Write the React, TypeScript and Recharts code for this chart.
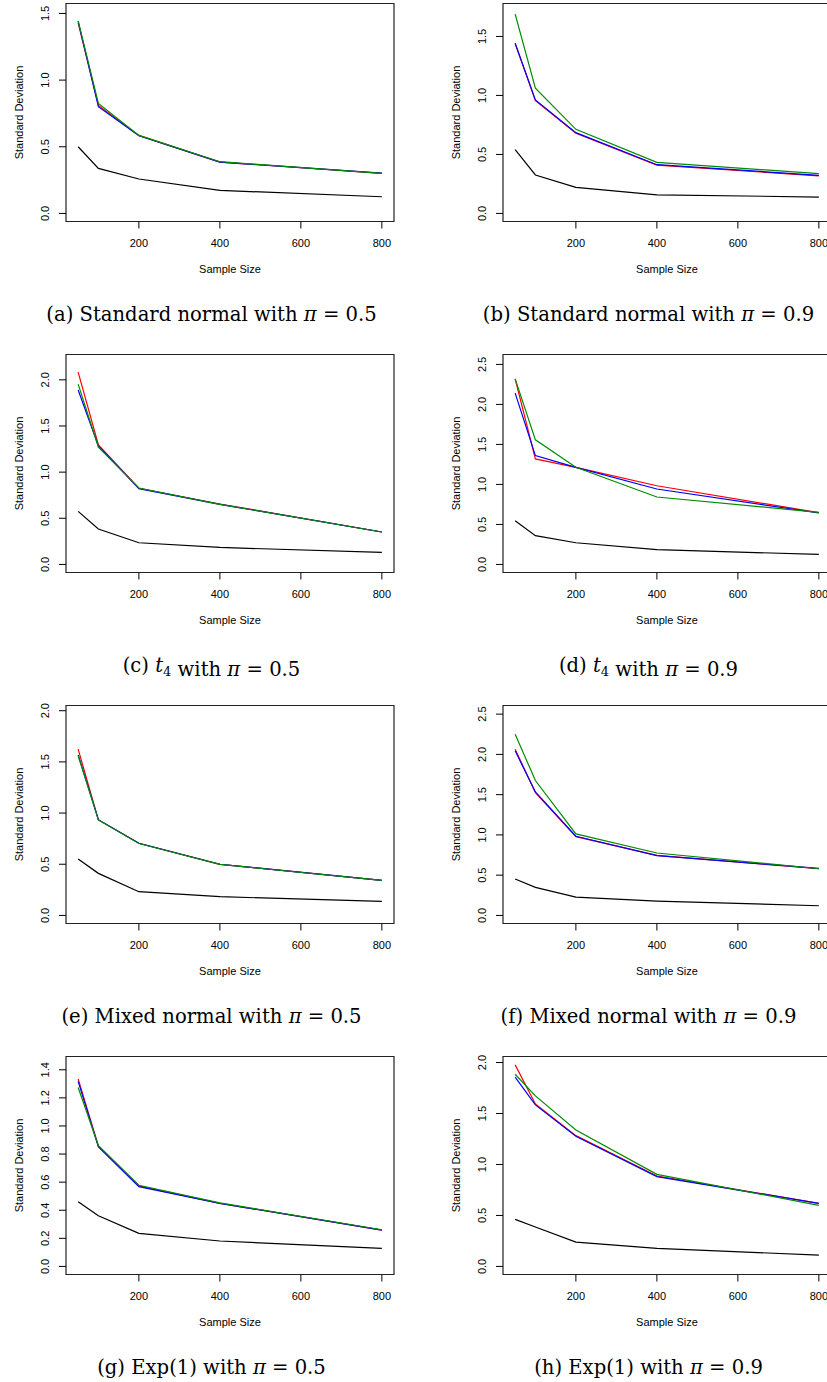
import React from 'react';
import { LineChart, Line, XAxis, YAxis, ReferenceArea } from 'recharts';

// sample sizes on the x axis
const sampleSizes = [50, 100, 200, 400, 800];
const xTicks = [200, 400, 600, 800];

// standard deviation of each estimator, one object per panel
const normal05 = {
  black: [0.5, 0.338, 0.258, 0.173, 0.125],
  red: [1.43, 0.81, 0.585, 0.385, 0.3],
  blue: [1.44, 0.8, 0.583, 0.385, 0.302],
  green: [1.445, 0.825, 0.585, 0.388, 0.3],
};
const normal09 = {
  black: [0.54, 0.326, 0.221, 0.158, 0.139],
  red: [1.44, 0.955, 0.68, 0.41, 0.318],
  blue: [1.443, 0.962, 0.685, 0.413, 0.323],
  green: [1.69, 1.061, 0.713, 0.433, 0.337],
};
const t4_05 = {
  black: [0.575, 0.383, 0.235, 0.184, 0.13],
  red: [2.083, 1.295, 0.825, 0.655, 0.351],
  blue: [1.89, 1.284, 0.821, 0.651, 0.351],
  green: [1.953, 1.27, 0.828, 0.651, 0.351],
};
const t4_09 = {
  black: [0.547, 0.359, 0.271, 0.184, 0.125],
  red: [2.32, 1.319, 1.214, 0.983, 0.647],
  blue: [2.141, 1.36, 1.214, 0.943, 0.643],
  green: [2.32, 1.557, 1.214, 0.843, 0.651],
};
const mixed05 = {
  black: [0.551, 0.411, 0.232, 0.183, 0.137],
  red: [1.625, 0.933, 0.705, 0.499, 0.343],
  blue: [1.569, 0.935, 0.705, 0.5, 0.343],
  green: [1.56, 0.933, 0.703, 0.499, 0.342],
};
const mixed09 = {
  black: [0.452, 0.348, 0.228, 0.178, 0.12],
  red: [2.065, 1.526, 0.978, 0.746, 0.58],
  blue: [2.044, 1.534, 0.983, 0.742, 0.585],
  green: [2.251, 1.675, 1.012, 0.775, 0.58],
};
const exp05 = {
  black: [0.461, 0.361, 0.235, 0.181, 0.128],
  red: [1.334, 0.858, 0.573, 0.449, 0.259],
  blue: [1.317, 0.851, 0.568, 0.449, 0.259],
  green: [1.274, 0.86, 0.578, 0.452, 0.261],
};
const exp09 = {
  black: [0.462, 0.387, 0.239, 0.177, 0.111],
  red: [1.977, 1.594, 1.283, 0.887, 0.619],
  blue: [1.856, 1.584, 1.277, 0.881, 0.619],
  green: [1.885, 1.673, 1.339, 0.903, 0.599],
};

const ticksHalf15 = [0, 0.5, 1, 1.5];
const ticksHalf20 = [0, 0.5, 1, 1.5, 2];
const ticksHalf25 = [0, 0.5, 1, 1.5, 2, 2.5];
const ticksFifth14 = [0, 0.2, 0.4, 0.6, 0.8, 1, 1.2, 1.4];

type Series = { black: number[]; red: number[]; blue: number[]; green: number[] };
type Panel = {
  tag: string;
  dist: 'normal' | 't4' | 'mixed' | 'exp';
  pi: string;
  series: Series;
  yTop: number;
  yTicks: number[];
  col: number;
  row: number;
};

const panels: Panel[] = [
  { tag: 'a', dist: 'normal', pi: '0.5', series: normal05, yTop: 1.514, yTicks: ticksHalf15, col: 0, row: 0 },
  { tag: 'b', dist: 'normal', pi: '0.9', series: normal09, yTop: 1.711, yTicks: ticksHalf15, col: 1, row: 0 },
  { tag: 'c', dist: 't4', pi: '0.5', series: t4_05, yTop: 2.187, yTicks: ticksHalf20, col: 0, row: 1 },
  { tag: 'd', dist: 't4', pi: '0.9', series: t4_09, yTop: 2.523, yTicks: ticksHalf25, col: 1, row: 1 },
  { tag: 'e', dist: 'mixed', pi: '0.5', series: mixed05, yTop: 1.972, yTicks: ticksHalf20, col: 0, row: 2 },
  { tag: 'f', dist: 'mixed', pi: '0.9', series: mixed09, yTop: 2.507, yTicks: ticksHalf25, col: 1, row: 2 },
  { tag: 'g', dist: 'exp', pi: '0.5', series: exp05, yTop: 1.437, yTicks: ticksFifth14, col: 0, row: 3 },
  { tag: 'h', dist: 'exp', pi: '0.9', series: exp09, yTop: 1.98, yTicks: ticksHalf20, col: 1, row: 3 },
];

const SANS = "'Liberation Sans', Arial, Helvetica, sans-serif";
const SERIF = "'DejaVu Serif', 'Liberation Serif', serif";

const COL_X = [0, 437];
const ROW_Y = 351;
const CHART_W = 414;
const CHART_H = 250;
const BOX_LEFT = 66;
const BOX_TOP = 3.5;
const BOX_W = 328;
const BOX_H = 218;

const colors = { black: '#000000', red: '#ff0000', blue: '#0000ff', green: '#008b00' };

const XTick = (props: any) => {
  const { x, y, payload } = props;
  return (
    <text x={x} y={y + 18.5} textAnchor="middle" fontSize={11} fontFamily={SANS} fill="#000">
      {payload.value}
    </text>
  );
};

const YTick = (props: any) => {
  const { x, y, payload } = props;
  const tx = x - 10;
  return (
    <text x={tx} y={y} transform={`rotate(-90 ${tx} ${y})`} textAnchor="middle" fontSize={11} fontFamily={SANS} fill="#000">
      {Number(payload.value).toFixed(1)}
    </text>
  );
};

function Caption({ p, x, y }: { p: Panel; x: number; y: number }) {
  let dist: React.ReactNode;
  if (p.dist === 'normal') dist = 'Standard normal';
  else if (p.dist === 'mixed') dist = 'Mixed normal';
  else if (p.dist === 'exp') dist = 'Exp(1)';
  else
    dist = (
      <>
        <tspan fontStyle="italic">t</tspan>
        <tspan fontSize={13} dy={4}>4</tspan>
        <tspan dy={-4}></tspan>
      </>
    );
  return (
    <text x={x} y={y} textAnchor="middle" fontFamily={SERIF} fontSize={19.6} fill="#000">
      ({p.tag}) {dist} with <tspan fontStyle="italic">π</tspan> = {p.pi}
    </text>
  );
}

function SdPanel({ p }: { p: Panel }) {
  const rows = sampleSizes.map((n, i) => ({
    n,
    black: p.series.black[i],
    red: p.series.red[i],
    blue: p.series.blue[i],
    green: p.series.green[i],
  }));
  const yDomain = [-0.04 * p.yTop, 1.04 * p.yTop];
  return (
    <div style={{ position: 'absolute', left: COL_X[p.col], top: p.row * ROW_Y }}>
      <LineChart
        width={CHART_W}
        height={CHART_H}
        data={rows}
        margin={{ top: BOX_TOP, right: CHART_W - BOX_LEFT - BOX_W, bottom: 0, left: 0 }}
      >
        <XAxis
          type="number"
          dataKey="n"
          domain={[20, 830]}
          ticks={xTicks}
          allowDataOverflow
          axisLine={false}
          tickLine={{ stroke: '#000' }}
          tickSize={7}
          tickMargin={0}
          height={CHART_H - BOX_TOP - BOX_H}
          tick={XTick}
          interval={0}
        />
        <YAxis
          type="number"
          domain={yDomain}
          ticks={p.yTicks}
          allowDataOverflow
          axisLine={false}
          tickLine={{ stroke: '#000' }}
          tickSize={7}
          tickMargin={0}
          width={BOX_LEFT}
          tick={YTick}
          interval={0}
        />
        <ReferenceArea
          x1={20}
          x2={830}
          y1={yDomain[0]}
          y2={yDomain[1]}
          fill="none"
          fillOpacity={0}
          stroke="#222"
          strokeWidth={1.2}
          ifOverflow="visible"
        />
        {(['black', 'red', 'blue', 'green'] as const).map((k) => (
          <Line
            key={k}
            type="linear"
            dataKey={k}
            stroke={colors[k]}
            strokeWidth={1.2}
            dot={false}
            activeDot={false}
            isAnimationActive={false}
          />
        ))}
      </LineChart>
    </div>
  );
}

export default function App() {
  return (
    <div
      style={{
        position: 'absolute',
        left: 0,
        top: 0,
        width: 827,
        height: 1382,
        overflow: 'hidden',
        background: '#fff',
      }}
    >
      {panels.map((p) => (
        <SdPanel key={p.tag} p={p} />
      ))}
      <svg width={827} height={1382} style={{ position: 'absolute', left: 0, top: 0, pointerEvents: 'none' }}>
        {panels.map((p) => {
          const ox = COL_X[p.col];
          const oy = p.row * ROW_Y;
          const midY = oy + BOX_TOP + BOX_H / 2;
          return (
            <g key={p.tag}>
              <text
                x={ox + BOX_LEFT + BOX_W / 2}
                y={oy + BOX_TOP + BOX_H + 51.5}
                textAnchor="middle"
                fontSize={11}
                fontFamily={SANS}
                fill="#000"
              >
                Sample Size
              </text>
              <text
                x={ox + 22.5}
                y={midY}
                transform={`rotate(-90 ${ox + 22.5} ${midY})`}
                textAnchor="middle"
                fontSize={11}
                fontFamily={SANS}
                fill="#000"
              >
                Standard Deviation
              </text>
              <Caption p={p} x={ox + 211.5} y={oy + 321} />
            </g>
          );
        })}
      </svg>
    </div>
  );
}
